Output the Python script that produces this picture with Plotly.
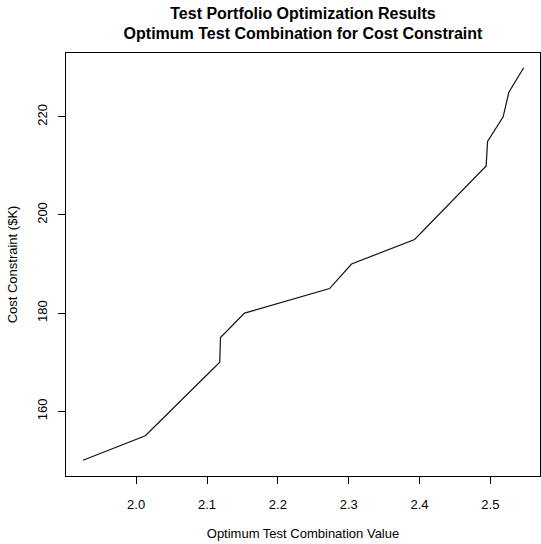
import plotly.graph_objects as go

# Data
combination_value = [1.925, 2.013, 2.118, 2.119, 2.153, 2.273, 2.304, 2.393, 2.494, 2.496, 2.518, 2.526, 2.547]
cost_constraint = [150, 155, 170, 175, 180, 185, 190, 195, 210, 215, 220, 225, 230]

x_ticks = [2.0, 2.1, 2.2, 2.3, 2.4, 2.5]
x_tick_labels = ["2.0", "2.1", "2.2", "2.3", "2.4", "2.5"]
y_ticks = [160, 180, 200, 220]
y_tick_labels = ["160", "180", "200", "220"]

FONT = "Liberation Sans, Arial, Helvetica, sans-serif"

fig = go.Figure()
fig.add_trace(go.Scatter(
    x=combination_value, y=cost_constraint, mode="lines",
    line=dict(color="#111111", width=1.2), showlegend=False,
))

fig.update_layout(
    width=541, height=544,
    margin=dict(l=66, r=1, t=53, b=68, pad=0),
    paper_bgcolor="white", plot_bgcolor="white",
    font=dict(family=FONT, size=13, color="black"),
    title=dict(
        text="Test Portfolio Optimization Results<br>Optimum Test Combination for Cost Constraint",
        font=dict(family=FONT, size=16, color="black", weight="bold"),
        x=303 / 541, xanchor="center", xref="container",
        y=1 - 18.5 / 544, yanchor="middle", yref="container",
    ),
    xaxis=dict(
        range=[1.901, 2.570], tickvals=x_ticks, ticktext=x_tick_labels,
        showgrid=False, zeroline=False, showline=True, mirror=True,
        linecolor="black", linewidth=1,
        ticks="outside", ticklen=7, tickcolor="black", tickwidth=1,
        tickfont=dict(size=13), ticklabelstandoff=9,
        title=dict(text="Optimum Test Combination Value", font=dict(size=13), standoff=18),
    ),
    yaxis=dict(
        range=[146.8, 233.0], tickvals=y_ticks, ticktext=y_tick_labels,
        showgrid=False, zeroline=False, showline=True, mirror=True,
        linecolor="black", linewidth=1,
        ticks="outside", ticklen=7, tickcolor="black", tickwidth=1,
        tickangle=-90, tickfont=dict(size=13), ticklabelstandoff=6,
        title=dict(text="Cost Constraint ($K)", font=dict(size=13), standoff=14),
    ),
)

fig.write_html("out.html")
